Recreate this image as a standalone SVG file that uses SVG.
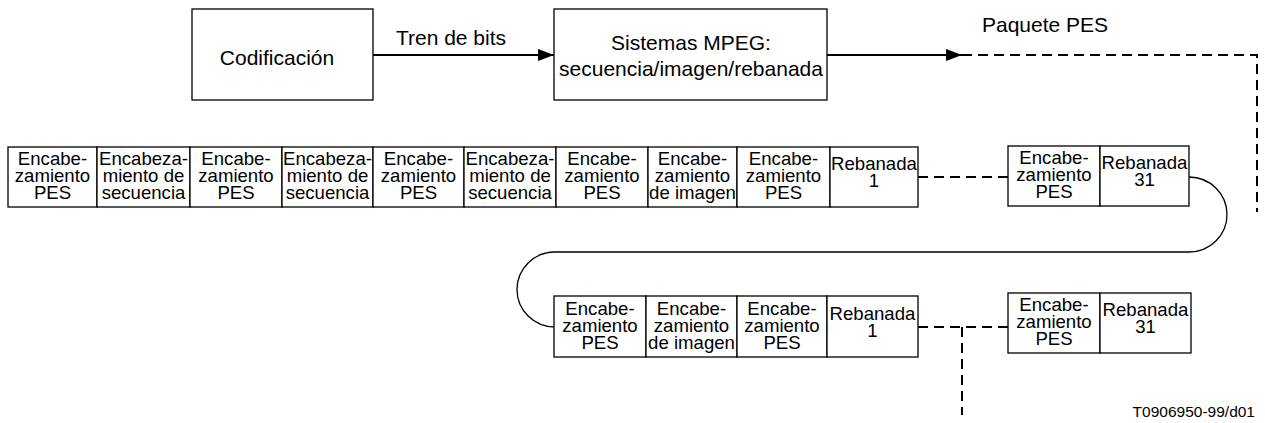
<svg xmlns="http://www.w3.org/2000/svg" width="1265" height="423" viewBox="0 0 1265 423">
<defs>
<style>
.box{fill:#fff;stroke:#000;stroke-width:1.3}
.t{font-family:"Liberation Sans",Arial,sans-serif;font-size:18.6px;fill:#000;text-anchor:middle}
.tl{font-family:"Liberation Sans",Arial,sans-serif;font-size:21px;fill:#000;text-anchor:middle}
.ln{fill:none;stroke:#000;stroke-width:2}
.dash{fill:none;stroke:#000;stroke-width:2;stroke-dasharray:10 6}
.curve{fill:none;stroke:#000;stroke-width:1.3}
</style>
<marker id="ah" markerWidth="16" markerHeight="12" refX="16" refY="6" orient="auto" markerUnits="userSpaceOnUse">
<path d="M0,0 L16,6 L0,12 Z" fill="#000"/>
</marker>
</defs>

<g id="connectors">
<line class="ln" x1="373" y1="55" x2="554" y2="55" marker-end="url(#ah)"/>
<line class="ln" x1="827" y1="55" x2="962" y2="55" marker-end="url(#ah)"/>
<path class="dash" d="M962,55 H1257 V212"/>
<line class="dash" x1="918" y1="177" x2="1008" y2="177"/>
<path class="curve" d="M1189,177 A38,37.5 0 0 1 1189,252 L555,252 A38,37.5 0 0 0 555,327"/>
<line class="dash" x1="918" y1="327" x2="1008" y2="327"/>
<line class="dash" x1="962" y1="327" x2="962" y2="415"/>
</g>

<g id="codificacion">
<rect class="box" x="192" y="9" width="181" height="91"/>
<text class="tl" x="277" y="65">Codificación</text>
</g>
<g id="sistemas-mpeg">
<rect class="box" x="554" y="9" width="273" height="91"/>
<text class="tl" x="691" y="50">Sistemas MPEG:</text>
<text class="tl" x="691" y="76">secuencia/imagen/rebanada</text>
</g>
<g id="label-tren">
<text class="tl" x="451" y="45">Tren de bits</text>
</g>
<g id="label-paquete">
<text class="tl" x="1045" y="32">Paquete PES</text>
</g>

<g id="row1">
<g id="r1b1"><rect class="box" x="8" y="147" width="89" height="60"/>
<text class="t" x="52.5" y="165">Encabe-</text><text class="t" x="52.5" y="182">zamiento</text><text class="t" x="52.5" y="199">PES</text></g>
<g id="r1b2"><rect class="box" x="97" y="147" width="93" height="60"/>
<text class="t" x="143.5" y="165">Encabeza-</text><text class="t" x="143.5" y="182">miento de</text><text class="t" x="143.5" y="199">secuencia</text></g>
<g id="r1b3"><rect class="box" x="190" y="147" width="92" height="60"/>
<text class="t" x="236" y="165">Encabe-</text><text class="t" x="236" y="182">zamiento</text><text class="t" x="236" y="199">PES</text></g>
<g id="r1b4"><rect class="box" x="282" y="147" width="91" height="60"/>
<text class="t" x="327.5" y="165">Encabeza-</text><text class="t" x="327.5" y="182">miento de</text><text class="t" x="327.5" y="199">secuencia</text></g>
<g id="r1b5"><rect class="box" x="373" y="147" width="91" height="60"/>
<text class="t" x="418.5" y="165">Encabe-</text><text class="t" x="418.5" y="182">zamiento</text><text class="t" x="418.5" y="199">PES</text></g>
<g id="r1b6"><rect class="box" x="464" y="147" width="92" height="60"/>
<text class="t" x="510" y="165">Encabeza-</text><text class="t" x="510" y="182">miento de</text><text class="t" x="510" y="199">secuencia</text></g>
<g id="r1b7"><rect class="box" x="556" y="147" width="92" height="60"/>
<text class="t" x="602" y="165">Encabe-</text><text class="t" x="602" y="182">zamiento</text><text class="t" x="602" y="199">PES</text></g>
<g id="r1b8"><rect class="box" x="648" y="147" width="89" height="60"/>
<text class="t" x="692.5" y="165">Encabe-</text><text class="t" x="692.5" y="182">zamiento</text><text class="t" x="692.5" y="199">de imagen</text></g>
<g id="r1b9"><rect class="box" x="737" y="147" width="93" height="60"/>
<text class="t" x="783.5" y="165">Encabe-</text><text class="t" x="783.5" y="182">zamiento</text><text class="t" x="783.5" y="199">PES</text></g>
<g id="r1b10"><rect class="box" x="830" y="147" width="88" height="60"/>
<text class="t" x="874" y="170">Rebanada</text><text class="t" x="874" y="187">1</text></g>
<g id="r1b11"><rect class="box" x="1008" y="146" width="92" height="60"/>
<text class="t" x="1054" y="164">Encabe-</text><text class="t" x="1054" y="181">zamiento</text><text class="t" x="1054" y="198">PES</text></g>
<g id="r1b12"><rect class="box" x="1100" y="146" width="89" height="60"/>
<text class="t" x="1144.5" y="169">Rebanada</text><text class="t" x="1144.5" y="186">31</text></g>
</g>

<g id="row2">
<g id="r2b1"><rect class="box" x="554" y="296" width="92" height="61"/>
<text class="t" x="600" y="315">Encabe-</text><text class="t" x="600" y="332">zamiento</text><text class="t" x="600" y="349">PES</text></g>
<g id="r2b2"><rect class="box" x="646" y="296" width="91" height="61"/>
<text class="t" x="691.5" y="315">Encabe-</text><text class="t" x="691.5" y="332">zamiento</text><text class="t" x="691.5" y="349">de imagen</text></g>
<g id="r2b3"><rect class="box" x="737" y="296" width="90" height="61"/>
<text class="t" x="782" y="315">Encabe-</text><text class="t" x="782" y="332">zamiento</text><text class="t" x="782" y="349">PES</text></g>
<g id="r2b4"><rect class="box" x="827" y="296" width="91" height="61"/>
<text class="t" x="872.5" y="320">Rebanada</text><text class="t" x="872.5" y="337">1</text></g>
<g id="r2b5"><rect class="box" x="1008" y="293" width="92" height="60"/>
<text class="t" x="1054" y="311">Encabe-</text><text class="t" x="1054" y="328">zamiento</text><text class="t" x="1054" y="345">PES</text></g>
<g id="r2b6"><rect class="box" x="1100" y="293" width="91" height="60"/>
<text class="t" x="1145.5" y="316">Rebanada</text><text class="t" x="1145.5" y="333">31</text></g>
</g>

<g id="figure-id">
<text x="1255" y="417" style="font-family:'Liberation Sans',Arial,sans-serif;font-size:15.5px;text-anchor:end">T0906950-99/d01</text>
</g>
</svg>
